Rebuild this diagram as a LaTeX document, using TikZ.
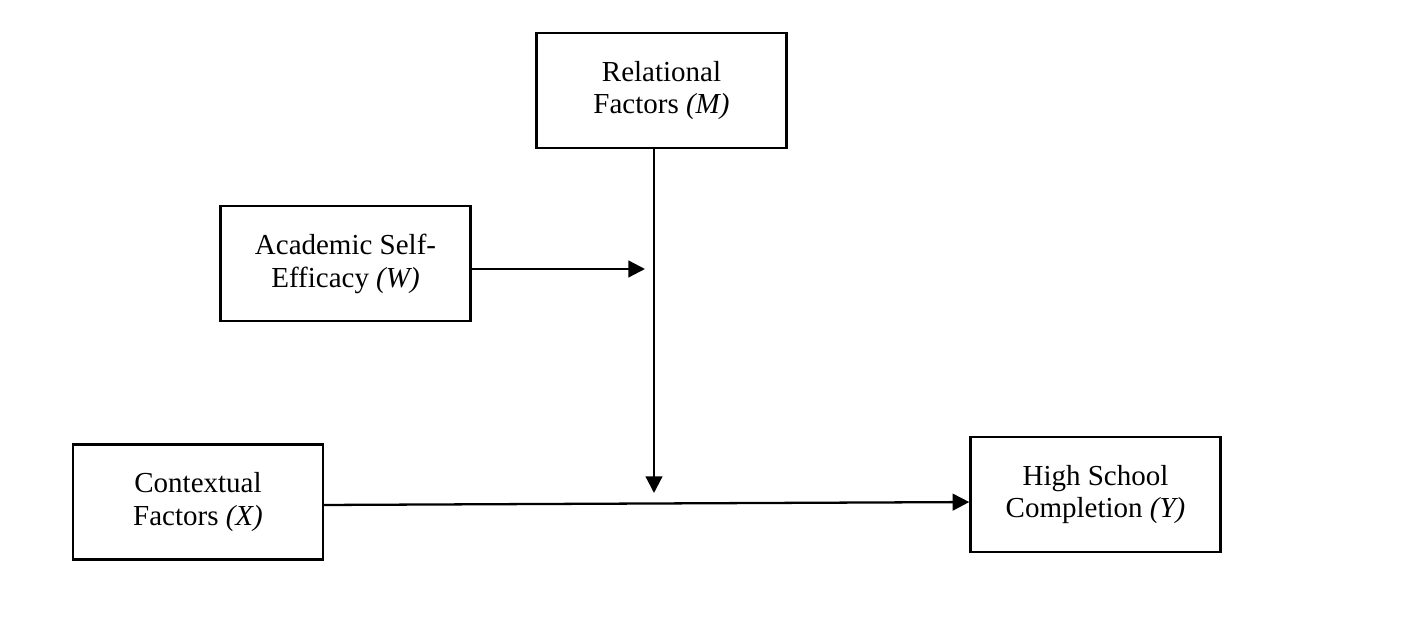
\documentclass[tikz,border=0pt]{standalone}
\usepackage{fontspec}
\setmainfont{Liberation Serif}
\usetikzlibrary{arrows.meta}

\begin{document}
\begin{tikzpicture}[x=0.02cm,y=-0.02cm,
  box/.style={draw,line width=1.4pt,minimum width=5cm,minimum height=2.3cm,
    align=center,inner sep=0pt,font=\fontsize{16.5}{18.7}\selectfont},
  arr/.style={line width=1.3pt,-{Triangle[length=9.5pt,width=9.5pt]}}]
\useasboundingbox (0,0) rectangle (1404,634);
\node[box] (M) at (661.5,90.5) {Relational\\Factors \textit{(M)}};
\node[box] (W) at (345.5,263.5) {Academic Self-\\Efficacy \textit{(W)}};
\node[box] (X) at (198,502) {Contextual\\Factors \textit{(X)}};
\node[box] (Y) at (1095.5,494.5) {High School\\Completion \textit{(Y)}};
\coordinate (wend) at (645,269);
\coordinate (mend) at (654,493);
\draw[arr] (M.south -| mend) -- (mend);
\draw[arr] (W.east |- wend) -- (wend);
\draw[arr] ([yshift=-1.7pt]X.east) -- ([yshift=-4.3pt]Y.west);
\end{tikzpicture}
\end{document}
